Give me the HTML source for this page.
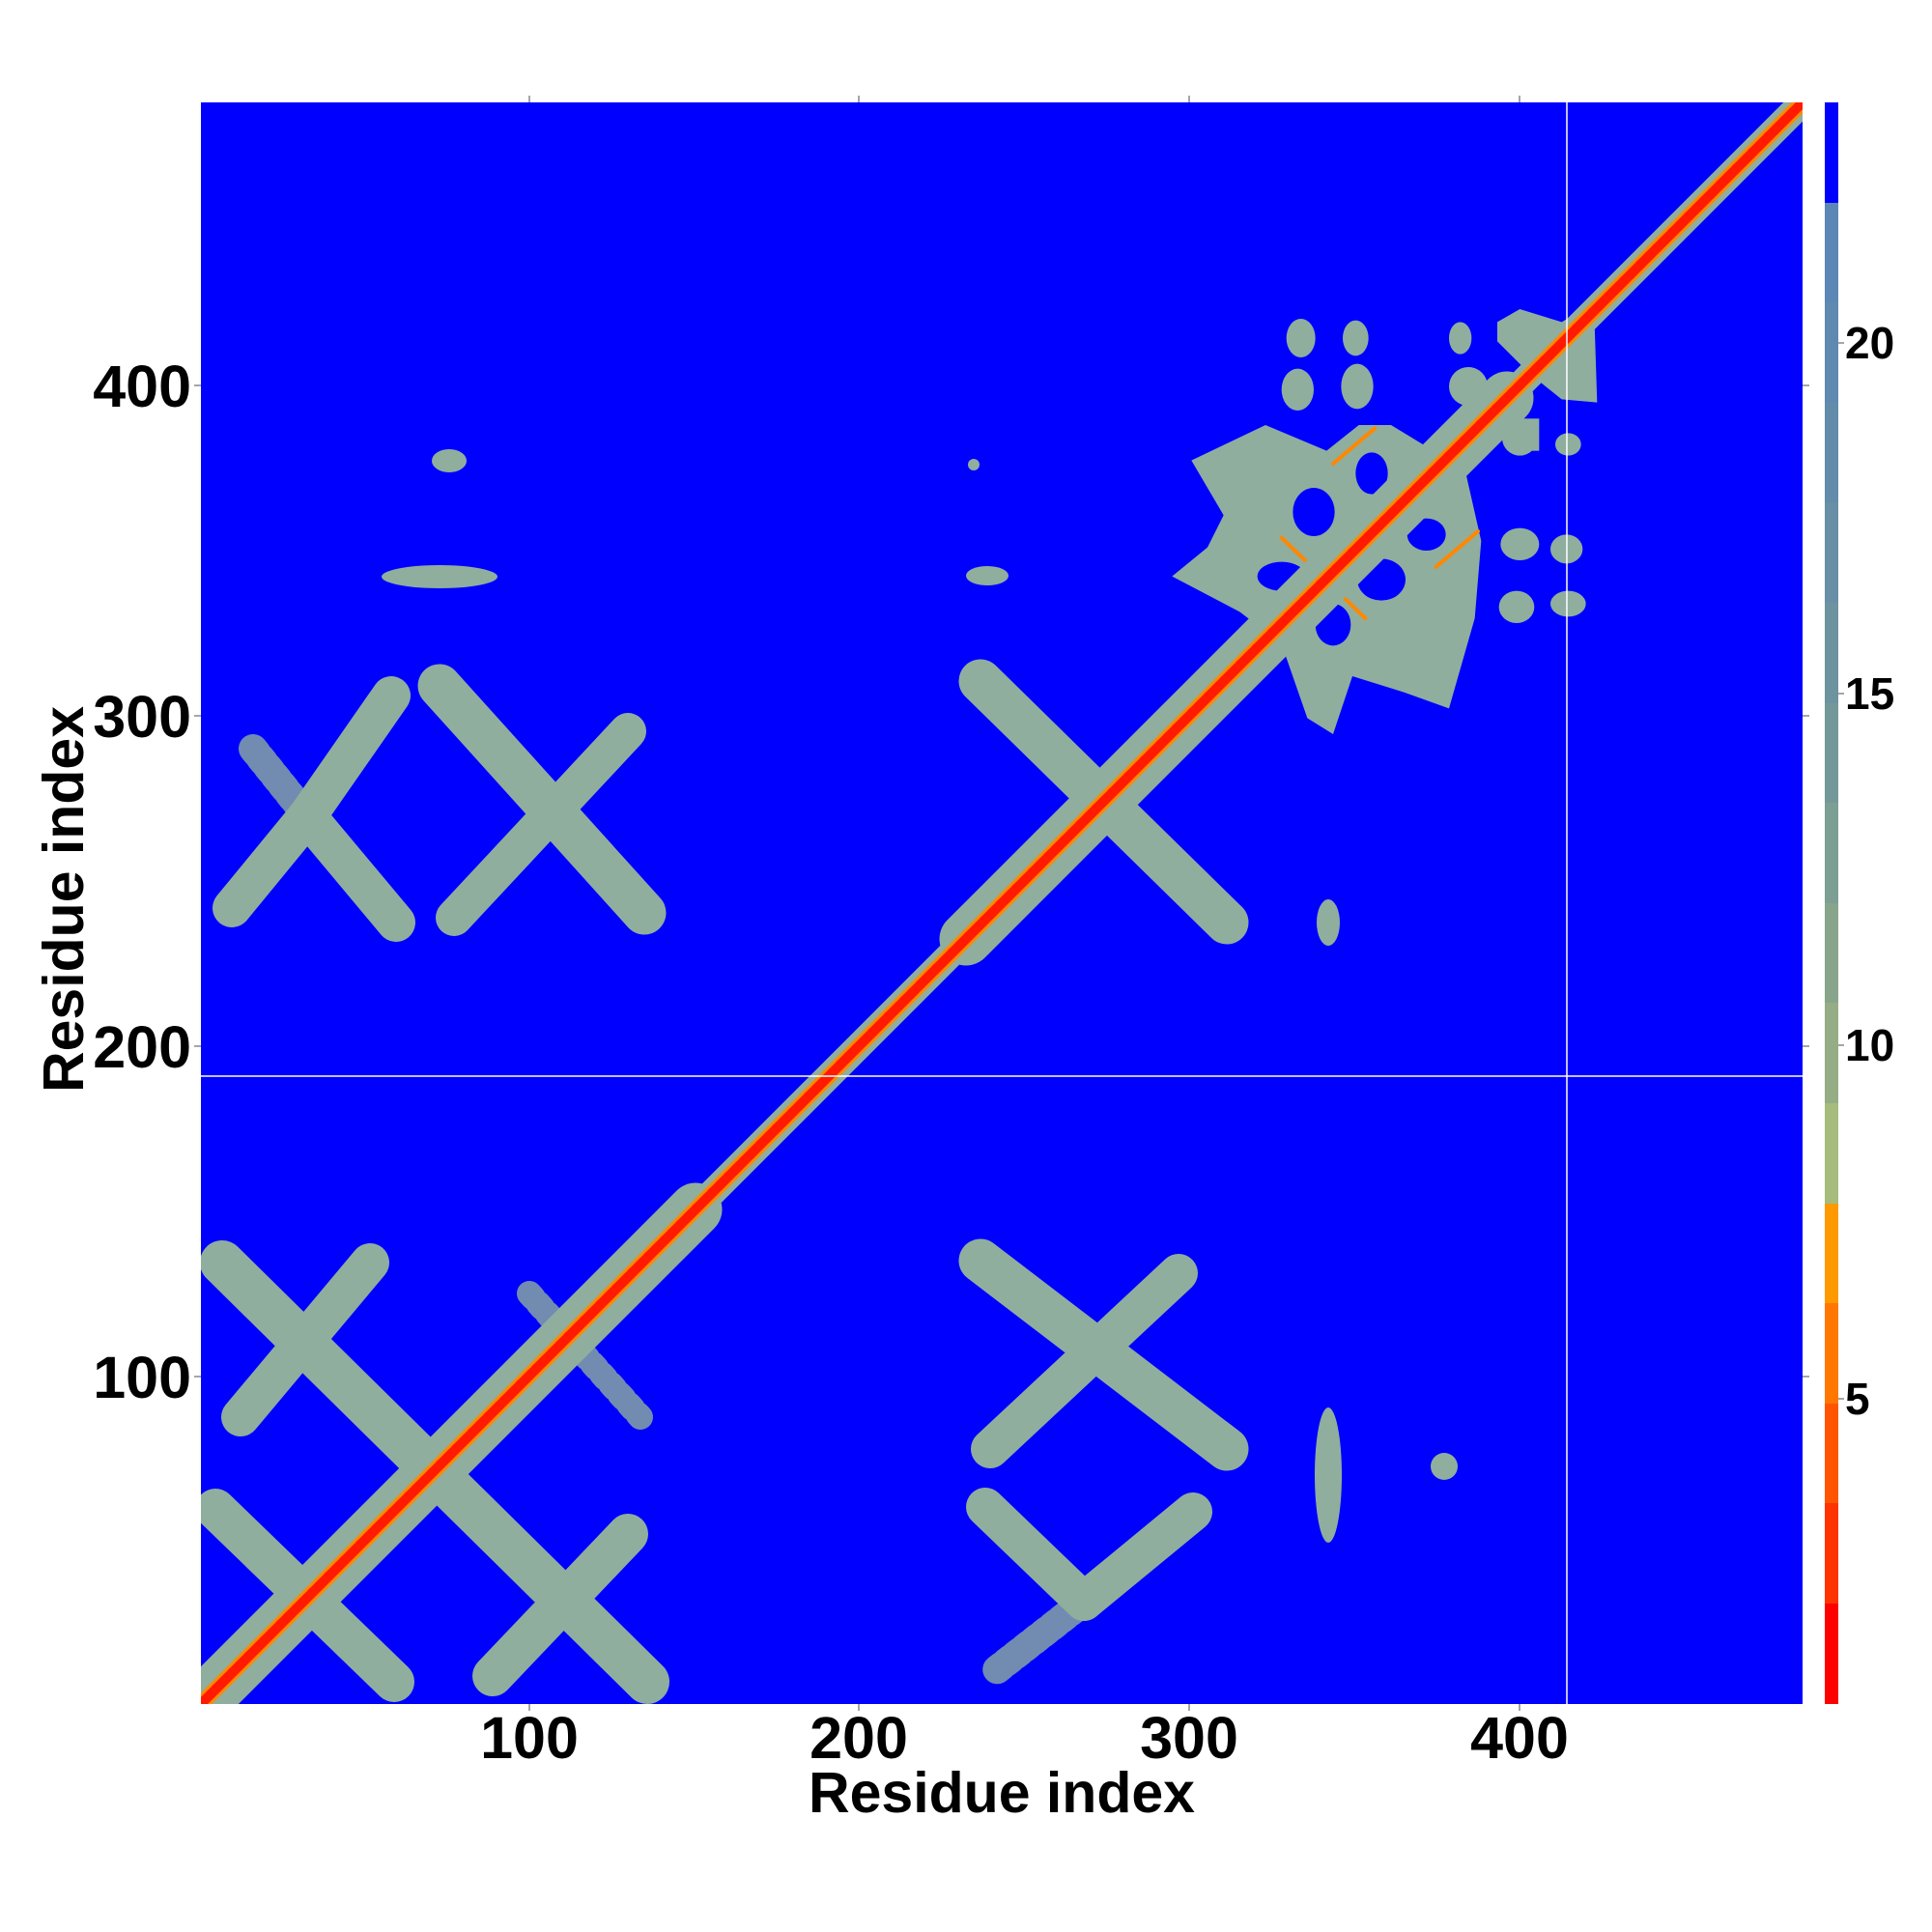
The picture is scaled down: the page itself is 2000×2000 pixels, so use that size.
<!DOCTYPE html>
<html><head><meta charset="utf-8"><style>
html,body{margin:0;padding:0;background:#fff;}
svg{display:block;}
text{font-family:"Liberation Sans",sans-serif;font-weight:bold;fill:#000;}
</style></head><body>
<svg width="2000" height="2000" viewBox="0 0 2000 2000" xmlns="http://www.w3.org/2000/svg">
<defs><clipPath id="pc"><rect x="208" y="106" width="1658" height="1658"/></clipPath></defs>
<rect x="208" y="106" width="1658" height="1658" fill="#0000ff"/>
<g clip-path="url(#pc)" stroke-linecap="round" fill="none">
 <g stroke="#8fae9e">
  <!-- bottom-left -->
  <line x1="230" y1="1307" x2="670" y2="1741" stroke-width="46"/>
  <line x1="383" y1="1307" x2="249" y2="1467" stroke-width="40"/>
  <line x1="223" y1="1562" x2="408" y2="1741" stroke-width="42"/>
  <line x1="650" y1="1588" x2="510" y2="1735" stroke-width="42"/>
  <line x1="548" y1="1339" x2="663" y2="1467" stroke-width="26" stroke-dasharray="6 8" opacity="0.8"/>
  <!-- upper-left -->
  <line x1="318" y1="845" x2="405" y2="720" stroke-width="40"/>
  <line x1="318" y1="845" x2="262" y2="775" stroke-width="30" stroke-dasharray="6 6" opacity="0.8"/>
  <line x1="318" y1="845" x2="240" y2="940" stroke-width="40"/>
  <line x1="318" y1="845" x2="410" y2="955" stroke-width="40"/>
  <line x1="455" y1="710" x2="667" y2="945" stroke-width="45"/>
  <line x1="650" y1="757" x2="470" y2="950" stroke-width="38"/>
  <ellipse cx="455" cy="597" rx="60" ry="12" stroke="none" fill="#8fae9e"/>
  <ellipse cx="465" cy="477" rx="18" ry="12" stroke="none" fill="#8fae9e"/>
  <!-- middle -->
  <line x1="1015" y1="705" x2="1270" y2="955" stroke-width="45"/>
  <line x1="1015" y1="1305" x2="1270" y2="1500" stroke-width="45"/>
  <line x1="1220" y1="1318" x2="1025" y2="1500" stroke-width="40"/>
  <line x1="1020" y1="1560" x2="1122" y2="1658" stroke-width="40"/>
  <line x1="1235" y1="1565" x2="1122" y2="1658" stroke-width="40"/>
  <line x1="1122" y1="1658" x2="1030" y2="1730" stroke-width="30" stroke-dasharray="6 6" opacity="0.8"/>
  <ellipse cx="1022" cy="596" rx="22" ry="10" stroke="none" fill="#8fae9e"/>
  <ellipse cx="1008" cy="481" rx="6" ry="6" stroke="none" fill="#8fae9e"/>
  <ellipse cx="1375" cy="955" rx="12" ry="24" stroke="none" fill="#8fae9e"/>
  <ellipse cx="1375" cy="1527" rx="14" ry="70" stroke="none" fill="#8fae9e"/>
  <ellipse cx="1495" cy="1518" rx="14" ry="14" stroke="none" fill="#8fae9e"/>
 </g>
 <g transform="translate(1200,300) scale(0.33333)">
  <polygon fill="#8fae9e" points="100,530 330,420 520,500 620,420 720,420 950,560 1000,780 980,1020 900,1300 760,1250 600,1200 540,1380 460,1330 380,1100 250,1000 40,890 150,800 200,700"/>
  <g fill="#0000ff">
   <ellipse cx="480" cy="690" rx="65" ry="75"/>
   <ellipse cx="660" cy="570" rx="50" ry="65"/>
   <ellipse cx="830" cy="760" rx="60" ry="50"/>
   <ellipse cx="540" cy="1040" rx="55" ry="65"/>
   <ellipse cx="380" cy="890" rx="75" ry="45"/>
   <ellipse cx="690" cy="900" rx="75" ry="65"/>
  </g>
  <g fill="#8fae9e">
   <ellipse cx="440" cy="150" rx="45" ry="60"/>
   <ellipse cx="610" cy="150" rx="40" ry="55"/>
   <ellipse cx="935" cy="150" rx="35" ry="50"/>
   <ellipse cx="430" cy="310" rx="50" ry="65"/>
   <ellipse cx="615" cy="300" rx="50" ry="70"/>
   <ellipse cx="960" cy="300" rx="60" ry="60"/>
   <ellipse cx="1120" cy="460" rx="55" ry="55"/>
   <ellipse cx="1270" cy="480" rx="40" ry="35"/>
   <ellipse cx="1120" cy="790" rx="60" ry="50"/>
   <ellipse cx="1265" cy="805" rx="50" ry="45"/>
   <ellipse cx="1110" cy="985" rx="55" ry="50"/>
   <ellipse cx="1270" cy="975" rx="55" ry="40"/>
   <polygon points="1050,100 1120,60 1250,100 1350,40 1360,350 1250,340 1150,260 1050,160"/>
   <rect x="1100" y="400" width="80" height="100"/>
  </g>
  <g stroke="#ff8800" stroke-width="12" fill="none">
   <line x1="380" y1="770" x2="640" y2="1020"/>
   <line x1="540" y1="540" x2="670" y2="430"/>
   <line x1="860" y1="860" x2="990" y2="750"/>
  </g>
 </g>
 <line x1="180" y1="1792" x2="1894" y2="78" stroke="#8fae9e" stroke-width="28"/>
 <line x1="208" y1="1764" x2="720" y2="1252" stroke="#8fae9e" stroke-width="55"/>
 <line x1="1000" y1="972" x2="1560" y2="412" stroke="#8fae9e" stroke-width="55"/>
 <line x1="180" y1="1792" x2="1894" y2="78" stroke="#ff8800" stroke-width="16"/>
 <line x1="180" y1="1792" x2="1894" y2="78" stroke="#ff1a00" stroke-width="10"/>
 <line x1="208" y1="1114" x2="1866" y2="1114" stroke="#fff" stroke-width="1.5"/>
 <line x1="1622" y1="106" x2="1622" y2="1764" stroke="#fff" stroke-width="1.5"/>
</g>
<g stroke="#888" stroke-width="1.5">
 <line x1="548" y1="1764" x2="548" y2="1771"/><line x1="889" y1="1764" x2="889" y2="1771"/><line x1="1231" y1="1764" x2="1231" y2="1771"/><line x1="1573" y1="1764" x2="1573" y2="1771"/>
 <line x1="548" y1="106" x2="548" y2="99"/><line x1="889" y1="106" x2="889" y2="99"/><line x1="1231" y1="106" x2="1231" y2="99"/><line x1="1573" y1="106" x2="1573" y2="99"/>
 <line x1="201" y1="399" x2="208" y2="399"/><line x1="201" y1="741" x2="208" y2="741"/><line x1="201" y1="1083" x2="208" y2="1083"/><line x1="201" y1="1425" x2="208" y2="1425"/>
 <line x1="1866" y1="399" x2="1873" y2="399"/><line x1="1866" y1="741" x2="1873" y2="741"/><line x1="1866" y1="1083" x2="1873" y2="1083"/><line x1="1866" y1="1425" x2="1873" y2="1425"/>
 <line x1="1903" y1="355" x2="1909" y2="355"/><line x1="1903" y1="718" x2="1909" y2="718"/><line x1="1903" y1="1082" x2="1909" y2="1082"/><line x1="1903" y1="1448" x2="1909" y2="1448"/>
</g>
<g>
 <rect x="1889" y="106" width="14" height="104" fill="#0000ff"/>
 <rect x="1889" y="210" width="14" height="104" fill="#5b86b5"/>
 <rect x="1889" y="313" width="14" height="104" fill="#5f89b0"/>
 <rect x="1889" y="417" width="14" height="104" fill="#638caa"/>
 <rect x="1889" y="520" width="14" height="104" fill="#688fa5"/>
 <rect x="1889" y="624" width="14" height="104" fill="#6d939f"/>
 <rect x="1889" y="728" width="14" height="104" fill="#749899"/>
 <rect x="1889" y="831" width="14" height="104" fill="#7d9e93"/>
 <rect x="1889" y="935" width="14" height="104" fill="#88a58c"/>
 <rect x="1889" y="1038" width="14" height="104" fill="#95ad84"/>
 <rect x="1889" y="1142" width="14" height="104" fill="#a6bc7c"/>
 <rect x="1889" y="1246" width="14" height="104" fill="#ff9900"/>
 <rect x="1889" y="1349" width="14" height="104" fill="#ff7700"/>
 <rect x="1889" y="1453" width="14" height="104" fill="#ff5500"/>
 <rect x="1889" y="1556" width="14" height="104" fill="#ff3300"/>
 <rect x="1889" y="1660" width="14" height="104" fill="#ff0000"/>
</g>
<g font-size="61" text-anchor="end">
 <text x="198" y="421">400</text><text x="198" y="763">300</text><text x="198" y="1105">200</text><text x="198" y="1447">100</text>
</g>
<g font-size="61" text-anchor="middle">
 <text x="548" y="1820">100</text><text x="889" y="1820">200</text><text x="1231" y="1820">300</text><text x="1573" y="1820">400</text>
</g>
<g font-size="46">
 <text x="1910" y="371">20</text><text x="1910" y="734">15</text><text x="1910" y="1098">10</text><text x="1910" y="1464">5</text>
</g>
<text x="1037" y="1876" font-size="59" text-anchor="middle">Residue index</text>
<text x="0" y="0" font-size="59" text-anchor="middle" transform="translate(86,931) rotate(-90)">Residue index</text>
</svg>
</body></html>
